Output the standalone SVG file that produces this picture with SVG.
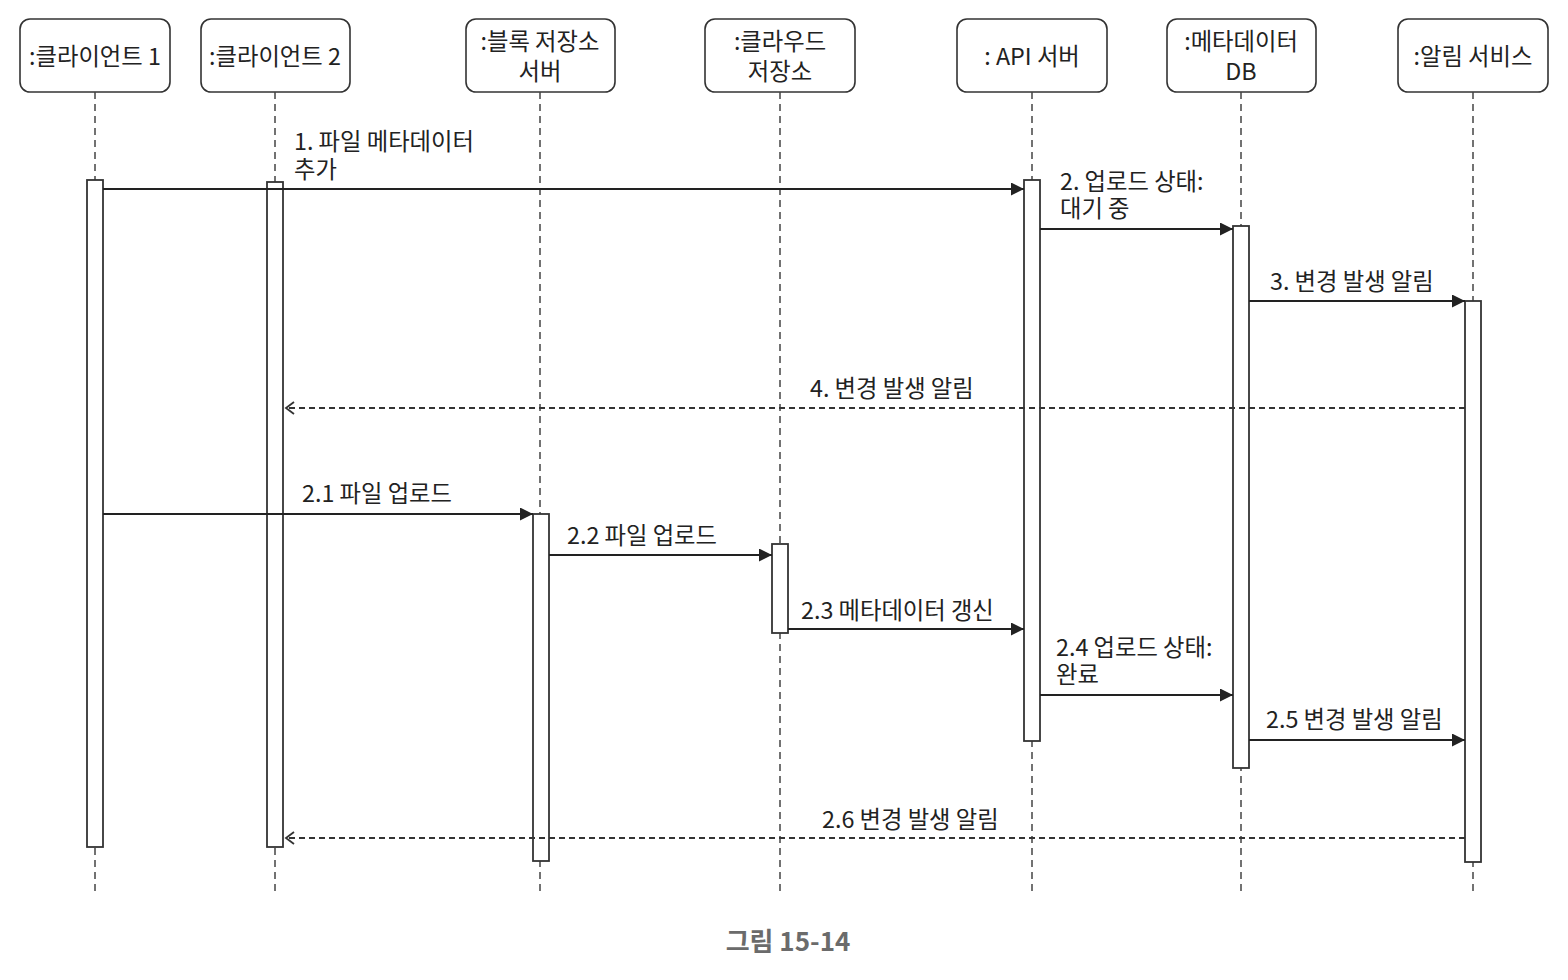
<svg xmlns="http://www.w3.org/2000/svg" width="1568" height="980" viewBox="0 0 1568 980">
<style>
  .box { fill: #ffffff; stroke: #333333; stroke-width: 1.6; }
  .life { stroke: #444444; stroke-width: 1.5; stroke-dasharray: 7 5; fill: none; }
  .act { fill: #ffffff; stroke: #333333; stroke-width: 1.8; }
  .msg { stroke: #222222; stroke-width: 2; fill: none; }
  .ret { stroke: #333333; stroke-width: 1.8; fill: none; stroke-dasharray: 6 4; }
  text { font-family: "Noto Sans CJK KR", "Noto Sans", sans-serif; font-size: 23.3px; fill: #222222; }
  .c { text-anchor: middle; }
  .cap { font-size: 26px; font-weight: bold; fill: #6b6b6b; }
</style>
<defs>
  <marker id="filled" markerUnits="userSpaceOnUse" markerWidth="13" markerHeight="13" viewBox="0 0 12 12" refX="12" refY="6" orient="auto">
    <path d="M0,0 L12,6 L0,12 z" fill="#222222" stroke="none"/>
  </marker>
  <marker id="open" markerUnits="userSpaceOnUse" markerWidth="12" markerHeight="16" viewBox="0 0 12 16" refX="10" refY="8" orient="auto">
    <path d="M2,2 L10,8 L2,14" fill="none" stroke="#333333" stroke-width="1.8" stroke-dasharray="none"/>
  </marker>
</defs>
<rect x="0" y="0" width="1568" height="980" fill="#ffffff"/>

<g id="client1">
  <rect class="box" x="20" y="19" width="150" height="73" rx="10"/>
  <text class="c" x="95" y="65">:클라이언트 1</text>
  <line class="life" x1="95" y1="92" x2="95" y2="896"/>
  <rect class="act" x="87" y="180" width="16" height="667"/>
</g>
<g id="client2">
  <rect class="box" x="201" y="19" width="149" height="73" rx="10"/>
  <text class="c" x="275" y="65">:클라이언트 2</text>
  <line class="life" x1="275" y1="92" x2="275" y2="896"/>
  <rect class="act" x="267" y="182" width="16" height="665"/>
</g>
<g id="blockserver">
  <rect class="box" x="466" y="19" width="149" height="73" rx="10"/>
  <text class="c" x="540" y="50">:블록 저장소<tspan x="540" dy="30">서버</tspan></text>
  <line class="life" x1="540" y1="92" x2="540" y2="896"/>
  <rect class="act" x="533" y="514" width="16" height="347"/>
</g>
<g id="cloudstorage">
  <rect class="box" x="705" y="19" width="150" height="73" rx="10"/>
  <text class="c" x="780" y="50">:클라우드<tspan x="780" dy="30">저장소</tspan></text>
  <line class="life" x1="780" y1="92" x2="780" y2="896"/>
  <rect class="act" x="772" y="544" width="16" height="89"/>
</g>
<g id="apiserver">
  <rect class="box" x="957" y="19" width="150" height="73" rx="10"/>
  <text class="c" x="1032" y="65">: API 서버</text>
  <line class="life" x1="1032" y1="92" x2="1032" y2="896"/>
  <rect class="act" x="1024" y="180" width="16" height="561"/>
</g>
<g id="metadatadb">
  <rect class="box" x="1167" y="19" width="149" height="73" rx="10"/>
  <text class="c" x="1241" y="50">:메타데이터<tspan x="1241" dy="30">DB</tspan></text>
  <line class="life" x1="1241" y1="92" x2="1241" y2="896"/>
  <rect class="act" x="1233" y="226" width="16" height="542"/>
</g>
<g id="notification">
  <rect class="box" x="1398" y="19" width="150" height="73" rx="10"/>
  <text class="c" x="1473" y="65">:알림 서비스</text>
  <line class="life" x1="1473" y1="92" x2="1473" y2="896"/>
  <rect class="act" x="1465" y="301" width="16" height="561"/>
</g>

<g id="connectors">
  <line class="msg" x1="103" y1="189" x2="1024" y2="189" marker-end="url(#filled)"/>
  <text x="294" y="150">1. 파일 메타데이터<tspan x="294" dy="28">추가</tspan></text>

  <line class="msg" x1="1040" y1="229" x2="1233" y2="229" marker-end="url(#filled)"/>
  <text x="1060" y="190">2. 업로드 상태:<tspan x="1060" dy="27">대기 중</tspan></text>

  <line class="msg" x1="1249" y1="301" x2="1465" y2="301" marker-end="url(#filled)"/>
  <text x="1270" y="290">3. 변경 발생 알림</text>

  <line class="ret" x1="1465" y1="408" x2="286" y2="408" marker-end="url(#open)"/>
  <text x="810" y="397">4. 변경 발생 알림</text>

  <line class="msg" x1="103" y1="514" x2="533" y2="514" marker-end="url(#filled)"/>
  <text x="302" y="502">2.1 파일 업로드</text>

  <line class="msg" x1="549" y1="555" x2="772" y2="555" marker-end="url(#filled)"/>
  <text x="567" y="544">2.2 파일 업로드</text>

  <line class="msg" x1="788" y1="629" x2="1024" y2="629" marker-end="url(#filled)"/>
  <text x="801" y="619">2.3 메타데이터 갱신</text>

  <line class="msg" x1="1040" y1="695" x2="1233" y2="695" marker-end="url(#filled)"/>
  <text x="1056" y="656">2.4 업로드 상태:<tspan x="1056" dy="27">완료</tspan></text>

  <line class="msg" x1="1249" y1="740" x2="1465" y2="740" marker-end="url(#filled)"/>
  <text x="1266" y="728">2.5 변경 발생 알림</text>

  <line class="ret" x1="1465" y1="838" x2="286" y2="838" marker-end="url(#open)"/>
  <text x="822" y="828">2.6 변경 발생 알림</text>
</g>

<text class="cap c" x="788" y="951">그림 15-14</text>
</svg>
